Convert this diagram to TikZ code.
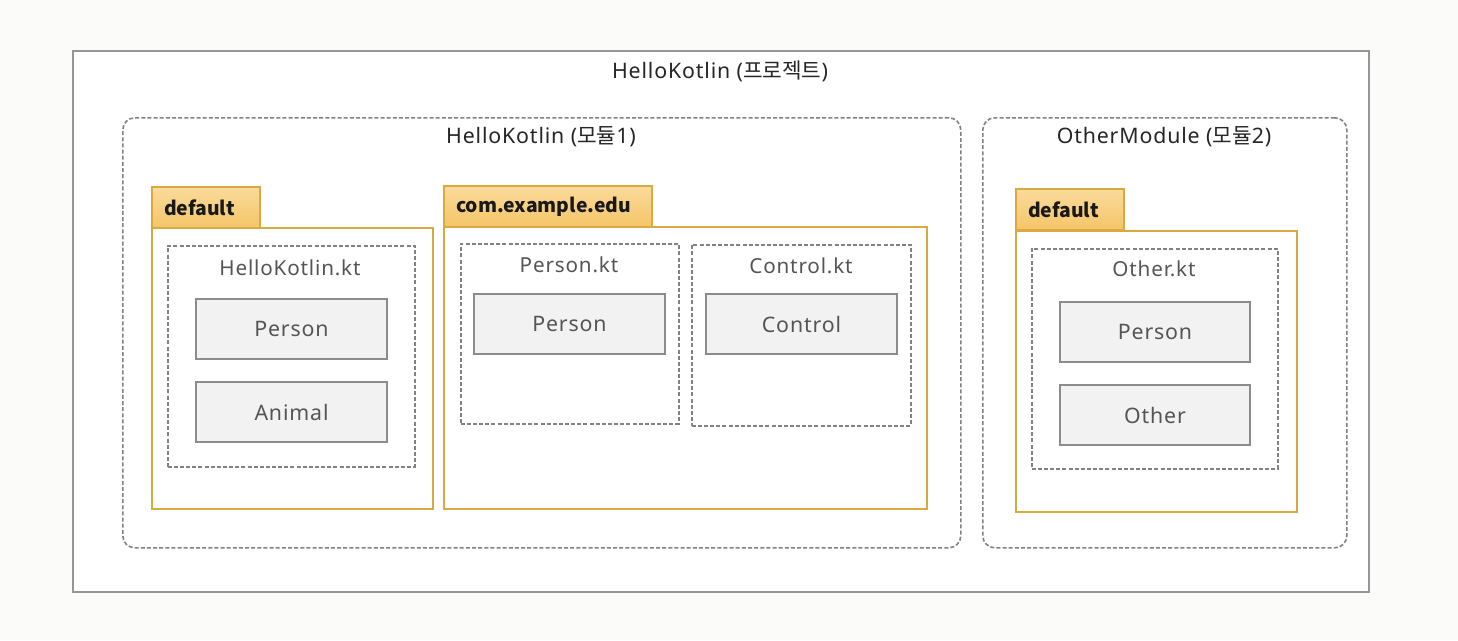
\documentclass[tikz,border=0pt]{standalone}
\usepackage{fontspec}
\setmainfont{Noto Sans}[LetterSpace=4]
\newfontfamily\kr{Noto Sans CJK KR}
\usetikzlibrary{positioning}
\definecolor{pagebg}{RGB}{251,251,250}
\definecolor{framegray}{RGB}{150,150,150}
\definecolor{dashgray}{RGB}{130,130,130}
\definecolor{pkgline}{RGB}{216,170,64}
\definecolor{tabtop}{RGB}{250,218,155}
\definecolor{tabbottom}{RGB}{245,197,104}
\definecolor{classfill}{RGB}{242,242,242}
\definecolor{classline}{RGB}{140,140,140}
\definecolor{softtext}{RGB}{85,85,85}

\begin{document}
\begin{tikzpicture}[x=0.75pt,y=-0.75pt,
  wh/.style 2 args={minimum width=#1*0.75pt,minimum height=#2*0.75pt,inner sep=0pt},
  project/.style={draw=framegray,line width=1.5pt,fill=white,anchor=north west},
  module/.style={draw=dashgray,line width=1.2pt,dash pattern=on 3pt off 1.6pt,rounded corners=9pt,anchor=north west},
  pkg/.style={draw=pkgline,line width=1.5pt,fill=white,anchor=north west},
  tab/.style={draw=pkgline,line width=1.5pt,top color=tabtop,bottom color=tabbottom,anchor=north west,
    minimum height=30.75pt,inner xsep=9pt,inner ysep=0pt,align=left,font=\kr\bfseries\fontsize{14.5}{17}\selectfont,text=black!90},
  file/.style={draw=dashgray,line width=1.2pt,dash pattern=on 3pt off 1.6pt,anchor=north west},
  cls/.style={draw=classline,line width=1.5pt,fill=classfill,anchor=north west,text=softtext,
    font=\fontsize{16}{19}\selectfont},
  title/.style={font=\fontsize{16}{19}\selectfont,text=black!85},
  ftitle/.style={font=\fontsize{15.5}{18}\selectfont,text=softtext}]
\fill[pagebg] (0,0) rectangle (1458,640);
\useasboundingbox (0,0) rectangle (1458,640);

\node[project,wh={1296}{541}] (proj) at (72,50) {};
\node[title] (projtitle) at (720,71) {HelloKotlin ({\kr 프로젝트})};

\node[module,wh={838}{430}] (m1) at (122,117) {};
\node[title] (m1title) at (541,137) {HelloKotlin ({\kr 모듈}1)};
\node[module,wh={364}{430}] (m2) at (982,117) {};
\node[title] (m2title) at (1164,137) {OtherModule ({\kr 모듈}2)};

% module 1
\node[pkg,wh={281}{281}] (p1) at (151,227) {};
\node[tab,text width=63pt] (p1tab) at (151,186) {default};
\node[file,wh={247}{221}] (f1) at (167,245) {};
\node[ftitle] (f1title) at (290,268) {HelloKotlin.kt};
\node[cls,wh={191}{60}] (c1) at (195,298) {Person};
\node[cls,wh={191}{60}] (c2) at (195,381) {Animal};

\node[pkg,wh={483}{282}] (p2) at (443,226) {};
\node[tab,text width=138pt] (p2tab) at (443,185) {com.example.edu};
\node[file,wh={218}{180}] (f2) at (460,243) {};
\node[ftitle] (f2title) at (569,265) {Person.kt};
\node[cls,wh={191}{60}] (c3) at (473,293) {Person};
\node[file,wh={219}{181}] (f3) at (691,244) {};
\node[ftitle] (f3title) at (801,266) {Control.kt};
\node[cls,wh={191}{60}] (c4) at (705,293) {Control};

% module 2
\node[pkg,wh={281}{281}] (p3) at (1015,230) {};
\node[tab,text width=63pt] (p3tab) at (1015,188) {default};
\node[file,wh={246}{220}] (f4) at (1031,248) {};
\node[ftitle] (f4title) at (1154,269) {Other.kt};
\node[cls,wh={190}{60}] (c5) at (1059,301) {Person};
\node[cls,wh={190}{60}] (c6) at (1059,384) {Other};
\end{tikzpicture}
\end{document}
